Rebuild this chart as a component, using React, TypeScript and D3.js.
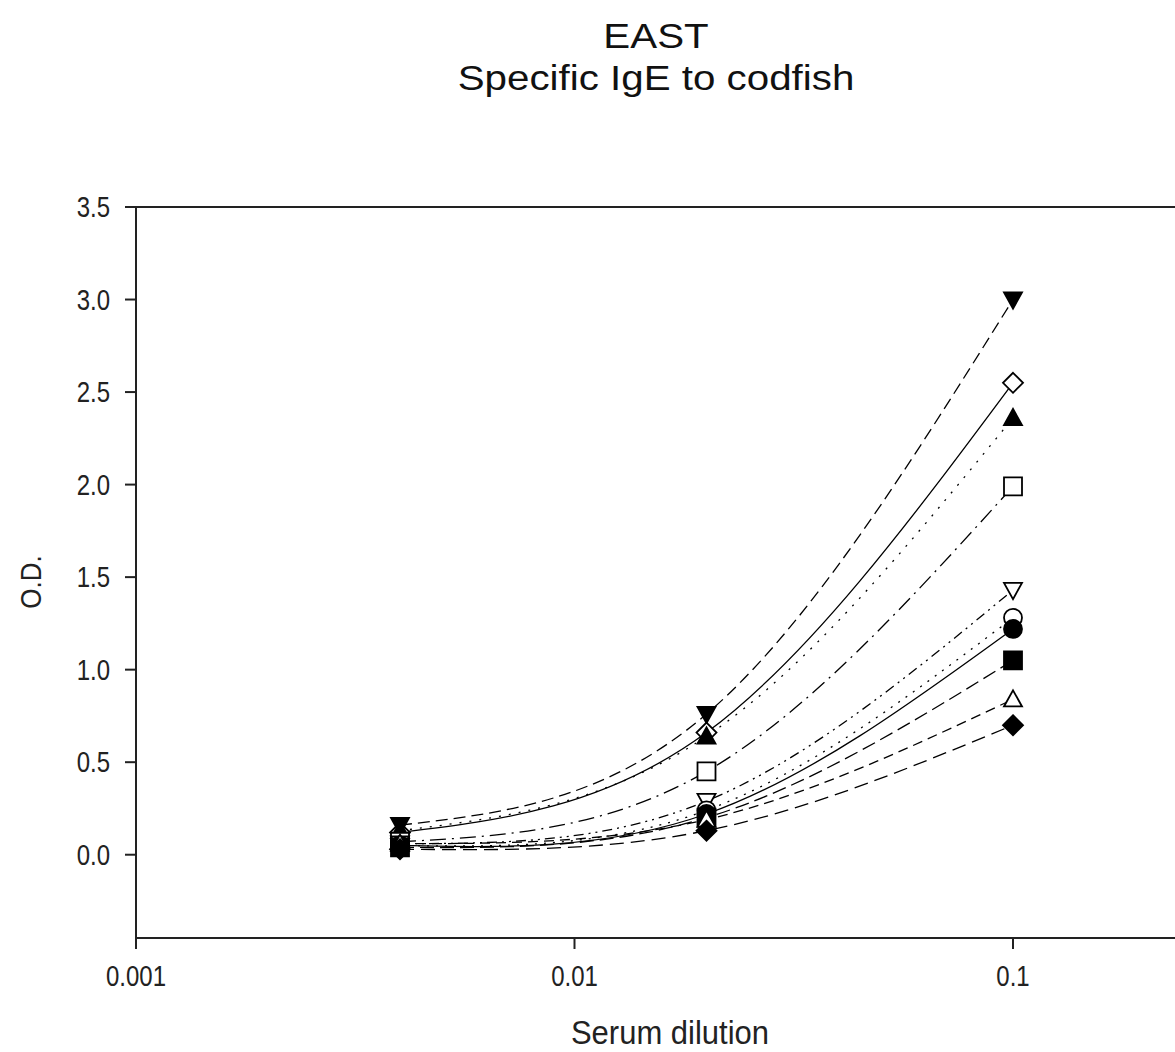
import React, { useEffect, useRef } from 'react';
import * as d3 from 'd3';

// dilutions on the x axis
const dilutions = [0.004, 0.02, 0.1];

// one row per serum, O.D. at each dilution
const seriesValues = [
  [0.16, 0.76, 3.0],
  [0.12, 0.66, 2.55],
  [0.13, 0.64, 2.36],
  [0.07, 0.45, 1.99],
  [0.06, 0.29, 1.43],
  [0.05, 0.24, 1.28],
  [0.05, 0.22, 1.22],
  [0.04, 0.2, 1.05],
  [0.06, 0.19, 0.84],
  [0.03, 0.13, 0.7],
];
const seriesMarkers = ['triDownFill', 'diamondOpen', 'triUpFill', 'squareOpen', 'triDownOpen', 'circleOpen', 'circleFill', 'squareFill', 'triUpOpen', 'diamondFill'];
const seriesDash = ['12,6', '', '2,8', '16,6,2,6', '10,5,2,5,2,5', '2,7', '', '14,6', '10,6', '14,7'];

const yTicks = [0, 0.5, 1.0, 1.5, 2.0, 2.5, 3.0, 3.5];
const xTicks = [0.001, 0.01, 0.1];
const xTickLabels = ['0.001', '0.01', '0.1'];
const titleLines = ['EAST', 'Specific IgE to codfish'];

const markerPath = (kind: string, s: number) => {
  const h = s / 2;
  if (kind.startsWith('triDown')) return `M${-h},${-h * 0.8}L${h},${-h * 0.8}L0,${h}Z`;
  if (kind.startsWith('triUp')) return `M${-h},${h * 0.8}L${h},${h * 0.8}L0,${-h}Z`;
  if (kind.startsWith('diamond')) return `M0,${-h}L${h},0L0,${h}L${-h},0Z`;
  if (kind.startsWith('square')) return `M${-h},${-h}L${h},${-h}L${h},${h}L${-h},${h}Z`;
  return d3.arc()({ innerRadius: 0, outerRadius: h, startAngle: 0, endAngle: Math.PI * 2 }) || '';
};

const App = () => {
  const svgRef = useRef<SVGSVGElement>(null);

  useEffect(() => {
    if (!svgRef.current) return;
    const svg = d3.select(svgRef.current);
    svg.selectAll('*').remove();

    const font = 'Liberation Sans, Arial, sans-serif';
    const x = d3.scaleLog().domain([0.001, 0.1]).range([136, 1013]);
    const y = d3.scaleLinear().domain([-0.45, 3.5]).range([938, 207]);
    const xRight = x(0.4);

    // title
    titleLines.forEach((s, i) => {
      svg.append('text').attr('transform', `translate(656,${48 + i * 42}) scale(1.12,1)`)
        .attr('text-anchor', 'middle')
        .attr('font-family', font).attr('font-size', 36).attr('fill', '#111').text(s);
    });

    // frame
    svg.append('line').attr('x1', x(0.001)).attr('x2', xRight).attr('y1', y(3.5)).attr('y2', y(3.5))
      .attr('stroke', '#222').attr('stroke-width', 2);
    svg.append('line').attr('x1', x(0.001)).attr('x2', xRight).attr('y1', y(-0.45)).attr('y2', y(-0.45))
      .attr('stroke', '#222').attr('stroke-width', 2);
    svg.append('line').attr('x1', x(0.001)).attr('x2', x(0.001)).attr('y1', y(3.5)).attr('y2', y(-0.45) + 11)
      .attr('stroke', '#222').attr('stroke-width', 2);

    // y ticks
    const yg = svg.append('g');
    yTicks.forEach(t => {
      yg.append('line').attr('x1', x(0.001) - 11).attr('x2', x(0.001)).attr('y1', y(t)).attr('y2', y(t))
        .attr('stroke', '#222').attr('stroke-width', 2);
      yg.append('text').attr('transform', `translate(110,${y(t) + 10}) scale(1,1.2)`).attr('text-anchor', 'end')
        .attr('font-family', font).attr('font-size', 24).attr('fill', '#222').text(t.toFixed(1));
    });

    // x ticks
    const xg = svg.append('g');
    xTicks.forEach((t, i) => {
      xg.append('line').attr('x1', x(t)).attr('x2', x(t)).attr('y1', y(-0.45)).attr('y2', y(-0.45) + 11)
        .attr('stroke', '#222').attr('stroke-width', 2);
      xg.append('text').attr('transform', `translate(${x(t)},986) scale(1,1.2)`).attr('text-anchor', 'middle')
        .attr('font-family', font).attr('font-size', 24).attr('fill', '#222').text(xTickLabels[i]);
    });

    // axis titles
    svg.append('text').attr('transform', 'translate(670,1044) scale(1,1.1)').attr('text-anchor', 'middle')
      .attr('font-family', font).attr('font-size', 31).attr('fill', '#222').text('Serum dilution');
    svg.append('text').attr('transform', `translate(41,582) rotate(-90) scale(1,1.1)`)
      .attr('text-anchor', 'middle')
      .attr('font-family', font).attr('font-size', 26).attr('fill', '#222').text('O.D.');

    // lines
    const line = d3.line<number>()
      .x((_, i) => x(dilutions[i]))
      .y(d => y(d))
      .curve(d3.curveNatural);

    seriesValues.forEach((vals, si) => {
      svg.append('path').attr('d', line(vals) || '').attr('fill', 'none')
        .attr('stroke', '#000').attr('stroke-width', 1.3)
        .attr('stroke-dasharray', seriesDash[si] || null);
    });

    // markers, drawn after lines
    seriesValues.forEach((vals, si) => {
      const kind = seriesMarkers[si];
      const filled = kind.endsWith('Fill');
      const size = kind.startsWith('diamond') ? 20 : 18;
      vals.forEach((v, i) => {
        svg.append('path').attr('d', markerPath(kind, size))
          .attr('transform', `translate(${x(dilutions[i])},${y(v)})`)
          .attr('fill', filled ? '#000' : '#fff')
          .attr('stroke', '#000').attr('stroke-width', 1.8);
      });
    });
  }, []);

  return (
    <svg ref={svgRef} width={1175} height={1052}
      style={{ position: 'absolute', left: 0, top: 0, background: '#fff' }} />
  );
};

export default App;
